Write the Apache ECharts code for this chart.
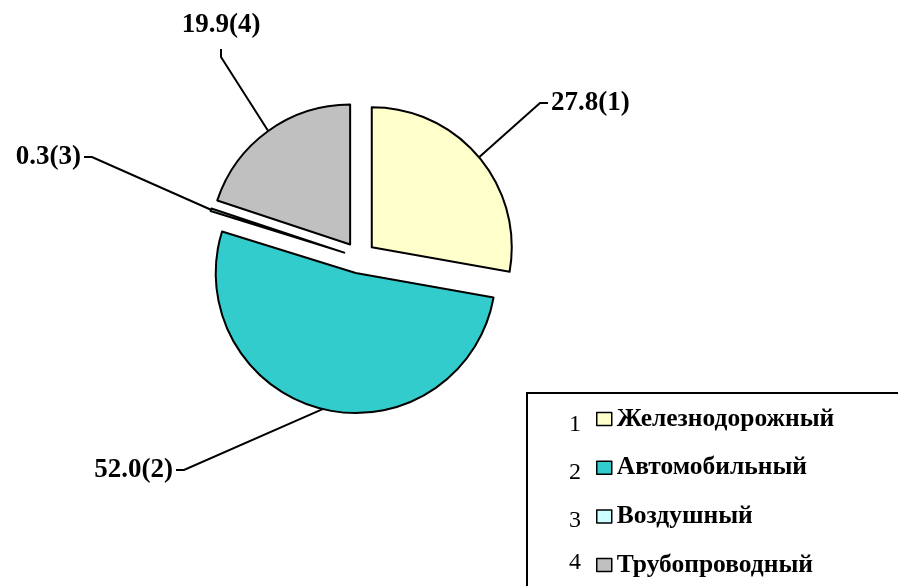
<!DOCTYPE html>
<html lang="ru">
<head>
    <meta charset="UTF-8">
    <title>Структура перевозок</title>
    <script src="https://cdn.jsdelivr.net/npm/echarts@6/dist/echarts.min.js"></script>
    <style>
        html, body { margin: 0; padding: 0; background: #fff; }
    </style>
</head>
<body>
<div id="main" style="width: 898px;height:586px;"></div>
<script>
    // данные диаграммы
    var names = ['Железнодорожный', 'Автомобильный', 'Воздушный', 'Трубопроводный'];
    var values = [27.8, 52.0, 0.3, 19.9];
    var colors = ['#FFFFCC', '#33CCCC', '#CCFFFF', '#C0C0C0'];
    var nums = ['1', '2', '3', '4'];

    // где стоят подписи: x, y, выравнивание
    var labelPos = [[551, 103, 'left'], [173, 470, 'right'], [81, 157, 'right'], [221, 25, 'center']];
    var numY = [425, 473, 521, 563];

    var cx = 359.5, cy = 257.5, R = 140, offset = 16;

    var myChart = echarts.init(document.getElementById('main'));

    var total = 0;
    for (var i = 0; i < values.length; i++) total += values[i];

    // каждый сектор - своя серия, сдвинутая от центра (выдвинутые секторы)
    var series = [];
    var cum = 0;
    for (var i = 0; i < values.length; i++) {
        var mid = (90 - 360 * (cum + values[i] / 2) / total) * Math.PI / 180;
        cum += values[i];
        var data = [];
        for (var j = 0; j < values.length; j++) {
            if (j === i) {
                data.push({ name: names[j], value: values[j], itemStyle: { color: colors[j] } });
            } else {
                data.push({
                    name: names[j], value: values[j],
                    itemStyle: { color: 'transparent', borderWidth: 0 },
                    label: { show: false },
                    labelLine: { show: false }
                });
            }
        }
        series.push({
            type: 'pie',
            center: [cx + offset * Math.cos(mid), cy - offset * Math.sin(mid)],
            radius: R,
            startAngle: 90,
            clockwise: true,
            avoidLabelOverlap: false,
            itemStyle: { borderColor: '#000', borderWidth: 2 },
            emphasis: { disabled: true },
            label: {
                show: true,
                formatter: function (p) {
                    return p.value.toFixed(1) + '(' + nums[p.dataIndex] + ')';
                },
                fontFamily: 'Liberation Serif',
                fontSize: 27,
                fontWeight: 'bold',
                color: '#000'
            },
            labelLine: {
                show: true,
                lineStyle: { color: '#000', width: 2 }
            },
            labelLayout: function (p) {
                if (!p.labelLinePoints) return {};
                var q = labelPos[p.dataIndex];
                var s = p.labelLinePoints[0];
                var pts;
                if (q[2] === 'left') {
                    pts = [s, [q[0] - 11, q[1]], [q[0] - 3, q[1]]];
                } else if (q[2] === 'right') {
                    pts = [s, [q[0] + 11, q[1]], [q[0] + 3, q[1]]];
                } else {
                    pts = [s, [q[0], q[1] + 32], [q[0], q[1] + 24]];
                }
                return {
                    x: q[0],
                    y: q[1],
                    align: q[2],
                    verticalAlign: 'middle',
                    labelLinePoints: pts
                };
            },
            data: data
        });
    }

    var graphic = [{
        type: 'rect',
        shape: { x: 527, y: 393, width: 420, height: 300 },
        style: { fill: 'none', stroke: '#000', lineWidth: 2 }
    }];
    for (var k = 0; k < nums.length; k++) {
        graphic.push({
            type: 'text',
            x: 575,
            y: numY[k],
            style: {
                text: nums[k],
                font: '24px "Liberation Serif"',
                fill: '#000',
                align: 'center',
                verticalAlign: 'middle'
            }
        });
    }

    var legendData = [];
    for (var n = 0; n < names.length; n++) {
        legendData.push({ name: names[n], itemStyle: { color: colors[n], opacity: 1, borderColor: '#000', borderWidth: 1.5 } });
    }

    myChart.setOption({
        animation: false,
        legend: {
            orient: 'vertical',
            left: 596,
            top: 406,
            height: 400,
            padding: 0,
            icon: 'rect',
            selectedMode: false,
            itemWidth: 15,
            itemHeight: 13,
            itemGap: 22.7,
            textStyle: {
                fontFamily: 'Liberation Serif',
                fontSize: 25.5,
                fontWeight: 'bold',
                color: '#000',
                lineHeight: 24
            },
            data: legendData
        },
        graphic: graphic,
        series: series
    });
</script>
</body>
</html>
